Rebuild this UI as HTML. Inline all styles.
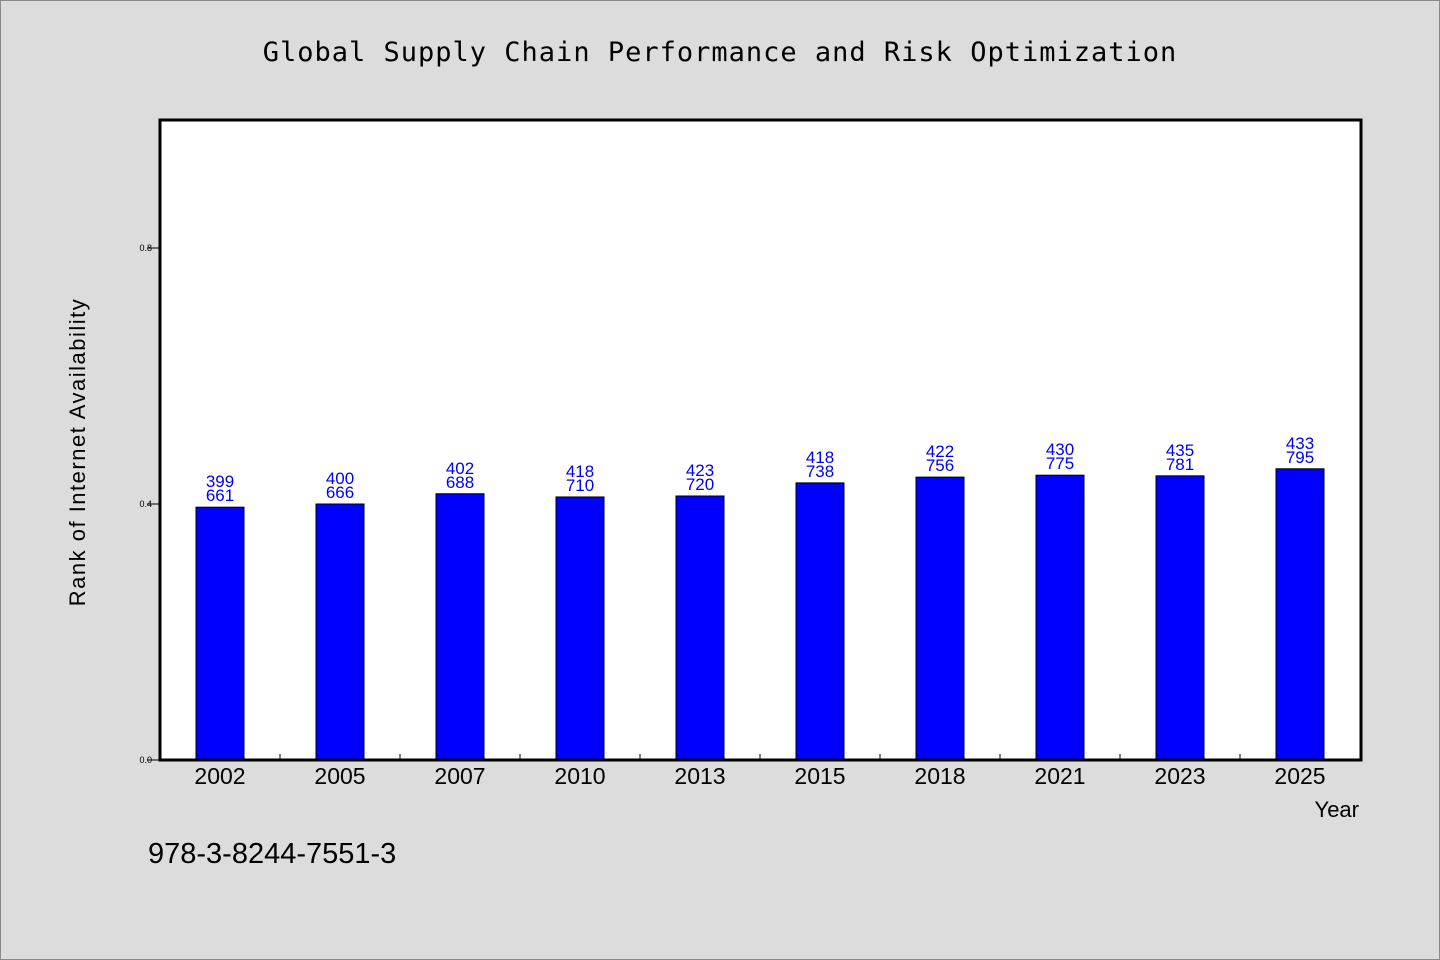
<!DOCTYPE html>
<html><head><meta charset="utf-8"><style>
body{margin:0;background:#dcdcdc;}
svg{display:block;font-family:"WenQuanYi Zen Hei","Liberation Sans",sans-serif;}
</style></head><body>
<svg id="c" width="1440" height="960">
<rect x="0.5" y="0.5" width="1439" height="959" fill="#dcdcdc" stroke="#888"/>
<text x="720" y="61" text-anchor="middle" font-size="27" font-family="WenQuanYi Zen Hei, monospace" letter-spacing="1">Global Supply Chain Performance and Risk Optimization</text>
<rect x="160" y="120" width="1201" height="640" fill="#fff"/>
<g id="bars"></g>
<rect x="160" y="120" width="1201" height="640" fill="none" stroke="#000" stroke-width="3"/>
<g id="axes"></g>
<text transform="translate(85,452) rotate(-90)" text-anchor="middle" font-size="22" letter-spacing="1.5">Rank of Internet Availability</text>
<text x="1359" y="817" text-anchor="end" font-size="22">Year</text>
<text x="148" y="863" font-size="29">978-3-8244-7551-3</text>
</svg>
<script>
const categories=["2002","2005","2007","2010","2013","2015","2018","2021","2023","2025"];
const values=[0.395,0.400,0.416,0.411,0.4125,0.433,0.442,0.445,0.444,0.455];
const labelTop=["399","400","402","418","423","418","422","430","435","433"];
const labelBottom=["661","666","688","710","720","738","756","775","781","795"];
const yTicks=[0,0.4,0.8];
const yTickLabels=["0.0","0.4","0.8"];
const NS="http://www.w3.org/2000/svg";
const x0=160,plotW=1200,y0=760,plotH=640;
const band=plotW/categories.length;
const xs=i=>x0+band*(i+0.5);
const ys=v=>y0-v*plotH;
const bars=document.getElementById('bars'),axes=document.getElementById('axes');
function mk(tag,attrs,parent,txt){const e=document.createElementNS(NS,tag);for(const k in attrs)e.setAttribute(k,attrs[k]);if(txt!==undefined)e.textContent=txt;parent.appendChild(e);return e;}
categories.forEach((c,i)=>{
  const cx=xs(i),top=ys(values[i]);
  const r=mk('rect',{x:cx-24,y:top,width:48,height:y0-top,fill:'#0000ff',stroke:'#000','stroke-width':1},bars);
  
  
  const t1=mk('text',{x:cx,y:top-20,'text-anchor':'middle','font-size':17,fill:'#0000ee'},bars,labelTop[i]);
  
  
  const t2=mk('text',{x:cx,y:top-6,'text-anchor':'middle','font-size':17,fill:'#0000ee'},bars,labelBottom[i]);
  
  
  const xl=mk('text',{x:cx,y:784,'text-anchor':'middle','font-size':23},axes,c);
  
  
  if(i>0){const tk=mk('line',{x1:x0+band*i,x2:x0+band*i,y1:760,y2:754,stroke:'#000'},axes);
    
    }
});
yTicks.forEach((v,i)=>{
  const y=ys(v);
  const tk=mk('line',{x1:147,x2:160,y1:y,y2:y,stroke:'#000'},axes);
  
  
  const tl=mk('text',{x:152,y:y+3,'text-anchor':'end','font-size':9},axes,yTickLabels[i]);
  
  
});
</script>
</body></html>
